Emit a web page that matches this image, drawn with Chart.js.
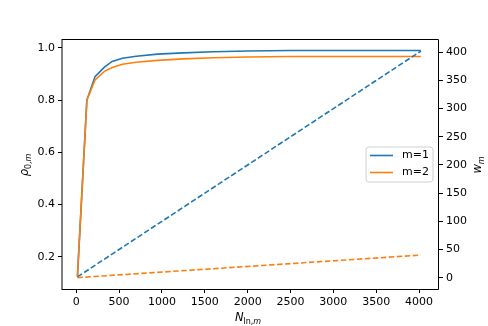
<!DOCTYPE html>
<html>
<head>
<meta charset="utf-8">
<script src="https://cdn.jsdelivr.net/npm/chart.js@4.4.0/dist/chart.umd.min.js"></script>
<style>
  body { margin: 0; background: #fff; }
</style>
</head>
<body>
<canvas id="myChart" width="488" height="326"></canvas>
<script>
// data
const nValues = [15, 125, 220, 330, 420, 540, 700, 950, 1250, 1600, 2000, 2500, 3000, 3500, 4020];
const rhoM1 = [0.125, 0.80, 0.89, 0.926, 0.948, 0.96, 0.968, 0.976, 0.981, 0.985, 0.988, 0.99, 0.99, 0.99, 0.99];
const rhoM2 = [0.125, 0.80, 0.877, 0.91, 0.925, 0.937, 0.945, 0.952, 0.958, 0.962, 0.965, 0.967, 0.967, 0.967, 0.967];
const nEnds = [15, 4020];
const wM1 = [1.5, 402];
const wM2 = [0.2, 40.2];

const xTicks = [0, 500, 1000, 1500, 2000, 2500, 3000, 3500, 4000];
const rhoTicks = [0.2, 0.4, 0.6, 0.8, 1.0];
const wTicks = [0, 50, 100, 150, 200, 250, 300, 350, 400];

const blue = '#1f77b4';
const orange = '#ff7f0e';
const tickFont = { family: 'DejaVu Sans', size: 11 };

const pts = (xs, ys) => xs.map((x, i) => ({ x: x, y: ys[i] }));

const data = {
  datasets: [
    { label: 'm=1', data: pts(nValues, rhoM1), borderColor: blue, yAxisID: 'y', order: 4 },
    { label: 'm=2', data: pts(nValues, rhoM2), borderColor: orange, yAxisID: 'y', order: 3 },
    { label: 'w1', data: pts(nEnds, wM1), borderColor: blue, borderDash: [5.5, 2.5], yAxisID: 'y2', order: 2 },
    { label: 'w2', data: pts(nEnds, wM2), borderColor: orange, borderDash: [5.5, 2.5], yAxisID: 'y2', order: 1 }
  ]
};
data.datasets.forEach(d => {
  d.borderWidth = 1.6;
  d.pointRadius = 0;
  d.tension = 0;
  d.fill = false;
});

function setTicks(values) {
  return scale => { scale.ticks = values.map(v => ({ value: v })); };
}

const axisCommon = {
  grid: { drawOnChartArea: false, drawTicks: true, tickLength: 4, tickColor: '#000', tickWidth: 1 },
  border: { display: false },
  ticks: { color: '#000', font: tickFont, padding: 3 }
};

// frame, axis titles and legend
const decor = {
  id: 'decor',
  afterDatasetsDraw(chart) {
    const { ctx, chartArea: a } = chart;
    const l = Math.round(a.left), r = Math.round(a.right) - 0.5;
    const t = Math.round(a.top) + 0.5, b = Math.round(a.bottom) + 0.5;
    ctx.save();
    ctx.strokeStyle = '#000';
    ctx.lineWidth = 1;
    ctx.beginPath();
    ctx.moveTo(l, t); ctx.lineTo(r, t); ctx.lineTo(r, b); ctx.lineTo(l, b);
    ctx.stroke();
    ctx.beginPath();
    ctx.moveTo(l, t - 0.5); ctx.lineTo(l, b + 0.5);
    ctx.stroke();
    ctx.restore();
  },
  afterDraw(chart) {
    const { ctx } = chart;
    ctx.save();
    ctx.fillStyle = '#000';
    ctx.textBaseline = 'alphabetic';

    // pieces: [text, italic, subscript]
    function drawPieces(pieces) {
      const fontOf = p => (p[1] ? 'italic ' : '') + (p[2] ? '8px' : '11.5px') + ' "DejaVu Sans"';
      let w = 0;
      pieces.forEach(p => { ctx.font = fontOf(p); w += ctx.measureText(p[0]).width; });
      let x = -w / 2;
      pieces.forEach(p => {
        ctx.font = fontOf(p);
        ctx.fillText(p[0], x, p[2] ? 3 : 0);
        x += ctx.measureText(p[0]).width;
      });
    }

    // x title
    ctx.save();
    ctx.translate(248, 321);
    drawPieces([['N', true, false], ['ln', false, true], [',', false, true], ['m', true, true]]);
    ctx.restore();

    // left title
    ctx.save();
    ctx.translate(28, 165);
    ctx.rotate(-Math.PI / 2);
    drawPieces([['ρ', true, false], ['0', false, true], [',', false, true], ['m', true, true]]);
    ctx.restore();

    // right title
    ctx.save();
    ctx.translate(481, 165);
    ctx.rotate(-Math.PI / 2);
    drawPieces([['w', true, false], ['m', true, true]]);
    ctx.restore();

    // legend box
    const bx = 366, by = 147, bw = 67, bh = 35, r = 3;
    ctx.beginPath();
    ctx.moveTo(bx + r, by);
    ctx.arcTo(bx + bw, by, bx + bw, by + bh, r);
    ctx.arcTo(bx + bw, by + bh, bx, by + bh, r);
    ctx.arcTo(bx, by + bh, bx, by, r);
    ctx.arcTo(bx, by, bx + bw, by, r);
    ctx.closePath();
    ctx.fillStyle = 'rgba(255,255,255,0.8)';
    ctx.fill();
    ctx.strokeStyle = '#d0d0d0';
    ctx.lineWidth = 1;
    ctx.stroke();

    const items = [[data.datasets[0].label, blue, 155.5], [data.datasets[1].label, orange, 172.5]];
    items.forEach(it => {
      ctx.strokeStyle = it[1];
      ctx.lineWidth = 1.6;
      ctx.beginPath();
      ctx.moveTo(370, it[2]);
      ctx.lineTo(393, it[2]);
      ctx.stroke();
      ctx.fillStyle = '#000';
      ctx.font = '11px "DejaVu Sans"';
      ctx.textBaseline = 'middle';
      ctx.fillText(it[0], 402, it[2]);
    });
    ctx.restore();
  }
};

const config = {
  type: 'line',
  data,
  options: {
    responsive: false,
    animation: false,
    devicePixelRatio: 1,
    layout: { padding: { top: 39, left: 0, right: 0, bottom: 0 } },
    plugins: { legend: { display: false }, tooltip: { enabled: false } },
    scales: {
      x: Object.assign({}, axisCommon, {
        type: 'linear', min: -165, max: 4232,
        afterBuildTicks: setTicks(xTicks),
        afterFit: s => { s.height = 37; },
        ticks: Object.assign({}, axisCommon.ticks, { callback: v => String(v), maxRotation: 0 })
      }),
      y: Object.assign({}, axisCommon, {
        type: 'linear', position: 'left', min: 0.0765, max: 1.034,
        afterBuildTicks: setTicks(rhoTicks),
        afterFit: s => { s.width = 62; },
        ticks: Object.assign({}, axisCommon.ticks, { callback: v => v.toFixed(1) })
      }),
      y2: Object.assign({}, axisCommon, {
        type: 'linear', position: 'right', min: -20, max: 423.5,
        afterBuildTicks: setTicks(wTicks),
        afterFit: s => { s.width = 49; },
        ticks: Object.assign({}, axisCommon.ticks, { callback: v => String(v) })
      })
    }
  },
  plugins: [decor]
};

const myChart = new Chart(document.getElementById('myChart'), config);
</script>
</body>
</html>
